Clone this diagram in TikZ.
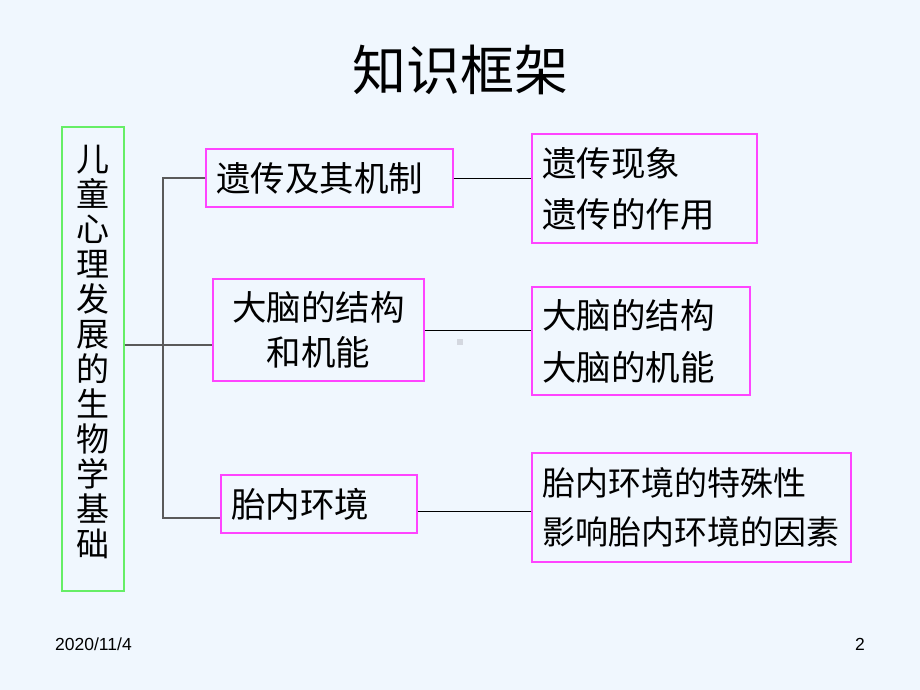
\documentclass[tikz,border=0pt]{standalone}
\usepackage{fontspec}
\setmainfont{Noto Sans CJK SC}
\newfontfamily\footfont{Liberation Sans}
\definecolor{bg}{HTML}{F0F7FE}
\definecolor{pinkb}{HTML}{FF44FF}
\definecolor{greenb}{HTML}{66EE66}
\definecolor{trunk}{HTML}{5A5A5A}
\definecolor{dotc}{HTML}{D4D8E0}
\tikzset{
  pbox/.style={draw=pinkb, line width=1.2pt, inner xsep=10pt, inner ysep=0pt, anchor=center},
  gbox/.style={draw=greenb, line width=1.2pt, inner sep=0pt, anchor=center},
  trunkline/.style={draw=trunk, line width=1.5pt},
  link/.style={draw=black, line width=1pt},
  bigtxt/.style={font=\fontsize{34.5}{45}\selectfont},
}
\begin{document}
\begin{tikzpicture}[x=1pt,y=-1pt]
\fill[bg] (0,0) rectangle (920,690);
\useasboundingbox (0,0) rectangle (920,690);

\node[font=\fontsize{54}{60}\selectfont] (title) at (460,70) {知识框架};

\node[gbox, minimum width=62pt, minimum height=464pt] (L) at (93,359) {};
\node[align=center, inner sep=0pt, font=\fontsize{33}{35}\selectfont] (Ltxt) at (93,352)
  {儿\\童\\心\\理\\发\\展\\的\\生\\物\\学\\基\\础};

\node[pbox, bigtxt, minimum width=247pt, minimum height=58pt, text width=227pt, align=left] (B1) at (329.5,178) {遗传及其机制};
\node[pbox, minimum width=211pt, minimum height=102pt, text width=191pt, align=center,
      font=\fontsize{34.5}{45}\selectfont] (B2) at (318.5,330) {大脑的结构\hspace*{12pt}\\和机能\hspace*{12pt}};
\node[pbox, bigtxt, minimum width=196pt, minimum height=58pt, text width=176pt, align=left] (B3) at (319,504) {胎内环境};

\node[pbox, minimum width=225pt, minimum height=109pt, text width=205pt, align=left,
      font=\fontsize{34.5}{51}\selectfont] (R1) at (644.5,188.5) {遗传现象\\遗传的作用};
\node[pbox, minimum width=218pt, minimum height=108pt, text width=198pt, align=left,
      font=\fontsize{34.5}{52}\selectfont] (R2) at (641,341) {大脑的结构\\大脑的机能};
\node[pbox, minimum width=319pt, minimum height=109pt, text width=299pt, align=left,
      font=\fontsize{33}{49}\selectfont] (R3) at (691.5,507.5) {胎内环境的特殊性\\影响胎内环境的因素};

% trunk
\coordinate (t1) at (163,178);
\coordinate (t3) at (163,518);
\draw[trunkline] (L.east |- 0,345) -- (B2.west |- 0,345);
\draw[trunkline] (B1.west) -- (t1) -- (t3) -- (B3.west |- t3);

% links
\draw[link] (B1.east) -- (B1.east -| R1.west);
\draw[link] (B2.east) -- (B2.east -| R2.west);
\draw[link] (B3.east |- 0,511) -- (R3.west |- 0,511);

\fill[dotc] (457,339) rectangle (463,345);

\node[font=\footfont\fontsize{17.5}{20}\selectfont, anchor=base west, inner sep=0pt] (date) at (55,650) {2020/11/4};
\node[font=\footfont\fontsize{17.5}{20}\selectfont, anchor=base west, inner sep=0pt] (page) at (855,650) {2};
\end{tikzpicture}
\end{document}
